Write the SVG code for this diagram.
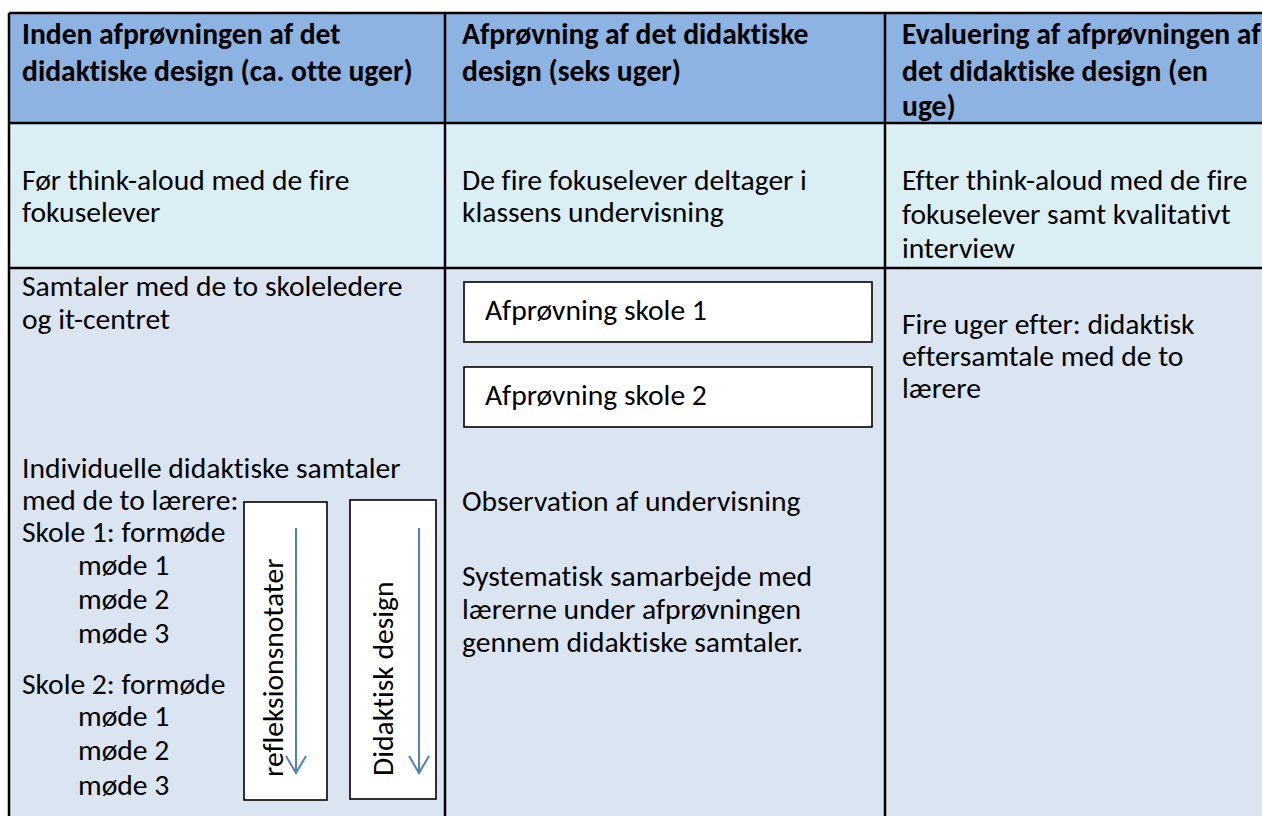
<svg xmlns="http://www.w3.org/2000/svg" width="1262" height="816" viewBox="0 0 1262 816">
  <style>
    text { font-family: Carlito, Calibri, Lato, "Open Sans", sans-serif; font-size: 29.6px; fill: #000; font-variant-ligatures: none; }
    .hd { font-weight: 700; }
    .grid { stroke: #000; stroke-width: 2.5; fill: none; }
    .box { fill: #fff; stroke: #000; stroke-width: 1.6; }
    .flow { stroke: #4F81BD; stroke-width: 2; fill: none; }
  </style>
  <rect width="1262" height="816" fill="#fff"/>

  <!-- row backgrounds -->
  <g id="bands">
    <rect x="9" y="13" width="1260" height="110" fill="#8DB3E2"/>
    <rect x="9" y="123" width="1260" height="145" fill="#DAEEF3"/>
    <rect x="9" y="268" width="1260" height="560" fill="#DBE5F1"/>
  </g>

  <!-- table rules -->
  <g id="grid" class="grid">
    <line x1="9" y1="13" x2="1270" y2="13"/>
    <line x1="9" y1="123" x2="1270" y2="123"/>
    <line x1="9" y1="268" x2="1270" y2="268"/>
    <line x1="9" y1="13" x2="9" y2="820"/>
    <line x1="445" y1="13" x2="445" y2="820"/>
    <line x1="885" y1="13" x2="885" y2="820"/>
  </g>

  <!-- header row -->
  <g id="head-before">
    <text class="hd" x="22" y="44">Inden afprøvningen af det</text>
    <text class="hd" x="22" y="81">didaktiske design (ca. otte uger)</text>
  </g>
  <g id="head-trial">
    <text class="hd" x="462" y="44">Afprøvning af det didaktiske</text>
    <text class="hd" x="462" y="81">design (seks uger)</text>
  </g>
  <g id="head-eval">
    <text class="hd" x="902" y="44">Evaluering af afprøvningen af</text>
    <text class="hd" x="902" y="81">det didaktiske design (en</text>
    <text class="hd" x="902" y="116">uge)</text>
  </g>

  <!-- think-aloud row -->
  <g id="thinkaloud-before">
    <text x="22" y="190">Før think-aloud med de fire</text>
    <text x="22" y="222">fokuselever</text>
  </g>
  <g id="thinkaloud-trial">
    <text x="462" y="190">De fire fokuselever deltager i</text>
    <text x="462" y="222">klassens undervisning</text>
  </g>
  <g id="thinkaloud-after">
    <text x="902" y="190">Efter think-aloud med de fire</text>
    <text x="902" y="224">fokuselever samt kvalitativt</text>
    <text x="902" y="258">interview</text>
  </g>

  <!-- activities row: first column -->
  <g id="talks-leaders">
    <text x="22" y="296">Samtaler med de to skoleledere</text>
    <text x="22" y="329">og it-centret</text>
  </g>
  <g id="talks-teachers">
    <text x="22" y="478">Individuelle didaktiske samtaler</text>
    <text x="22" y="510">med de to lærere:</text>
    <text x="22" y="542">Skole 1: formøde</text>
    <text x="78" y="575">møde 1</text>
    <text x="78" y="609">møde 2</text>
    <text x="78" y="643">møde 3</text>
    <text x="22" y="694">Skole 2: formøde</text>
    <text x="78" y="726">møde 1</text>
    <text x="78" y="760">møde 2</text>
    <text x="78" y="795">møde 3</text>
  </g>
  <g id="reflection-notes">
    <rect class="box" x="244" y="502" width="83" height="298"/>
    <text transform="translate(283 777) rotate(-90)">refleksionsnotater</text>
  </g>
  <g id="didactic-design">
    <rect class="box" x="350" y="500" width="86" height="299"/>
    <text transform="translate(393 776) rotate(-90)">Didaktisk design</text>
  </g>

  <!-- activities row: trial column -->
  <g id="trial-school-1">
    <rect class="box" x="464" y="282" width="408" height="60"/>
    <text x="485" y="320">Afprøvning skole 1</text>
  </g>
  <g id="trial-school-2">
    <rect class="box" x="464" y="367" width="408" height="60"/>
    <text x="485" y="405">Afprøvning skole 2</text>
  </g>
  <g id="observation">
    <text x="462" y="511">Observation af undervisning</text>
  </g>
  <g id="collaboration">
    <text x="462" y="586">Systematisk samarbejde med</text>
    <text x="462" y="619">lærerne under afprøvningen</text>
    <text x="462" y="652">gennem didaktiske samtaler.</text>
  </g>

  <!-- activities row: evaluation column -->
  <g id="follow-up">
    <text x="902" y="334">Fire uger efter: didaktisk</text>
    <text x="902" y="366">eftersamtale med de to</text>
    <text x="902" y="398">lærere</text>
  </g>

  <!-- downward flow arrows inside the vertical boxes -->
  <g id="connectors" class="flow">
    <path d="M296 528 V773 M286 756 L296 773 L306 756"/>
    <path d="M419 528 V773 M409 756 L419 773 L429 756"/>
  </g>
</svg>
